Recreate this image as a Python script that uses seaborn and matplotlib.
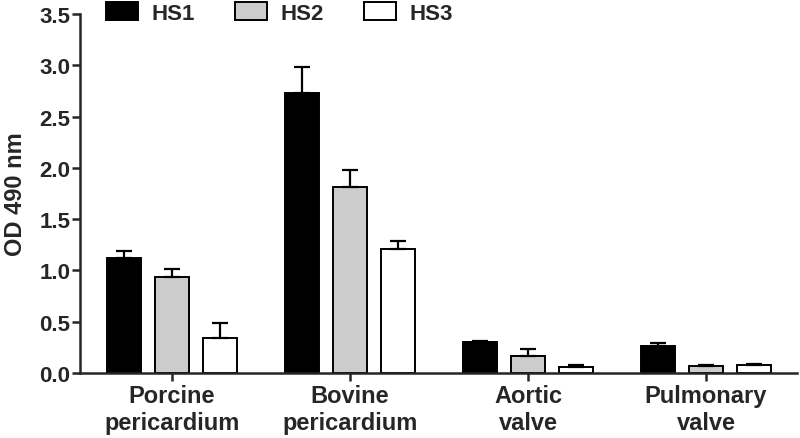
import numpy as np
import pandas as pd
import seaborn as sns
import matplotlib.pyplot as plt

tissues = ["Porcine\npericardium", "Bovine\npericardium", "Aortic\nvalve", "Pulmonary\nvalve"]
sera = ["HS1", "HS2", "HS3"]
means = {
    "HS1": [1.12, 2.73, 0.30, 0.26],
    "HS2": [0.94, 1.81, 0.17, 0.07],
    "HS3": [0.34, 1.21, 0.06, 0.08],
}
sems = {
    "HS1": [0.07, 0.25, 0.01, 0.03],
    "HS2": [0.07, 0.17, 0.06, 0.005],
    "HS3": [0.15, 0.08, 0.02, 0.005],
}
colors = ["#000000", "#cccccc", "#ffffff"]

rows = []
for s in sera:
    for t, m in zip(tissues, means[s]):
        rows.append({"tissue": t, "serum": s, "od": m})
df = pd.DataFrame(rows)

sns.set_style("ticks")
plt.rcParams["font.family"] = ["Liberation Sans", "DejaVu Sans"]
plt.rcParams["font.weight"] = "bold"

fig = plt.figure(figsize=(8, 4.39), dpi=100)
ax = fig.add_axes([0.1, 1 - 374 / 439, 0.896, (374 - 15) / 439])

sns.barplot(data=df, x="tissue", y="od", hue="serum", order=tissues, hue_order=sera,
            palette=colors, width=0.81, gap=0.3, edgecolor="black", linewidth=1.4,
            errorbar=None, ax=ax, legend=True)

# upper-only error bars with caps
for cont, s in zip(ax.containers, sera):
    for bar, e in zip(cont, sems[s]):
        x = bar.get_x() + bar.get_width() / 2
        y = bar.get_height()
        ax.errorbar(x, y, yerr=[[0], [e]], fmt="none", ecolor="black",
                    elinewidth=1.6, capsize=6, capthick=1.6, zorder=1)

ax.set_ylim(0, 3.5)
ax.set_yticks(np.arange(0, 3.51, 0.5))
ax.set_yticklabels([f"{v:.1f}" for v in np.arange(0, 3.51, 0.5)], fontsize=16, fontweight="bold")
ax.set_xlim(-0.517, 3.51)
ax.set_xticks(range(len(tissues)))
ax.set_xticklabels(tissues, fontsize=17, fontweight="bold", linespacing=1.2)
ax.set_xlabel("")
ax.set_ylabel("OD 490 nm", fontsize=17, fontweight="bold", labelpad=9)
sns.despine(ax=ax)
for sp in ["left", "bottom"]:
    ax.spines[sp].set_linewidth(1.8)
ax.tick_params(axis="both", width=1.8, length=6, direction="out")
ax.tick_params(axis="y", pad=1)
ax.tick_params(axis="x", pad=2)

handles, labels = ax.get_legend_handles_labels()
ax.get_legend().remove()
fig.legend(handles, labels, loc="upper left", bbox_to_anchor=(106 / 800, 1 - 3 / 439),
           ncol=3, frameon=False, prop={"weight": "bold", "size": 16},
           borderpad=0, borderaxespad=0, handlelength=1.45, handleheight=0.9,
           handletextpad=0.6, columnspacing=1.8)

fig.savefig("out.png", dpi=100)
